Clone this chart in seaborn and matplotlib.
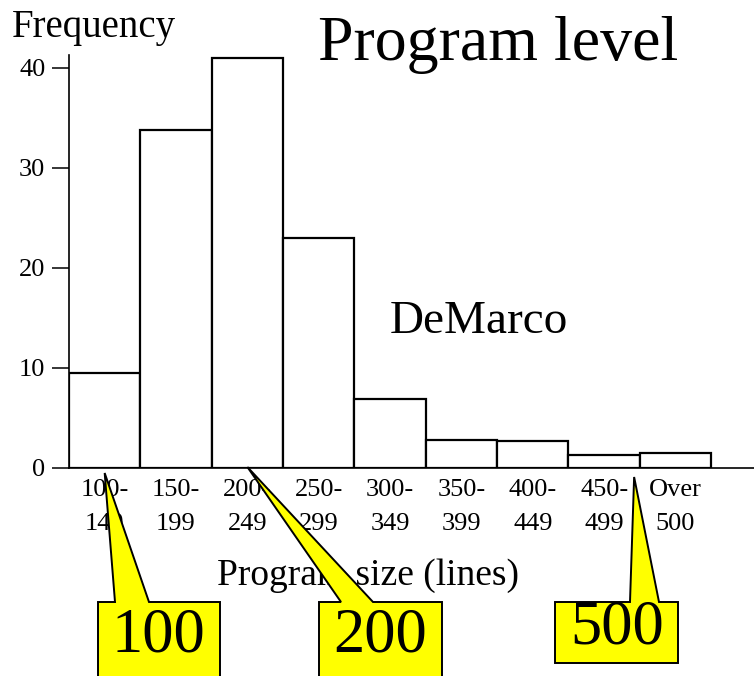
import matplotlib
matplotlib.use("Agg")
import matplotlib.pyplot as plt
from matplotlib.patches import Polygon
import seaborn as sns
import pandas as pd

# ---- data ----
categories = ["100-\n149", "150-\n199", "200-\n249", "250-\n299", "300-\n349",
              "350-\n399", "400-\n449", "450-\n499", "Over\n500"]
frequency = [9.5, 33.8, 41.0, 23.0, 6.9, 2.8, 2.7, 1.3, 1.5]
yticks = [0, 10, 20, 30, 40]
callout_labels = ["100", "200", "500"]
callout_targets = [0.0, 2.0, 7.42]   # bar-index positions pointed to

sns.set_theme(style="white")
plt.rcParams["font.family"] = ["Liberation Serif", "DejaVu Serif"]
plt.rcParams["text.color"] = "black"
plt.rcParams["axes.labelcolor"] = "black"
plt.rcParams["xtick.color"] = "black"
plt.rcParams["ytick.color"] = "black"

W, H = 754, 676
fig = plt.figure(figsize=(W / 100, H / 100), dpi=100)
ax = fig.add_axes([69 / W, 208 / H, (W - 69) / W, 413 / H])

df = pd.DataFrame({"size": categories, "freq": frequency})
sns.barplot(data=df, x="size", y="freq", ax=ax, color="white",
            edgecolor="black", linewidth=1.6, width=1.0, saturation=1)

ax.set_xlim(-0.5, 9.1)
ax.set_ylim(0, 41.3)
ax.set_yticks(yticks)
ax.set_yticklabels([str(v) for v in yticks])
ax.tick_params(axis="y", direction="out", length=12, width=1.1, color="black",
               labelsize=19, pad=5, left=True, labelcolor="black")
ax.tick_params(axis="x", length=0, labelsize=19, pad=8, labelcolor="black")
for lab in ax.get_xticklabels():
    lab.set_linespacing(1.7)
for s in ["top", "right"]:
    ax.spines[s].set_visible(False)
for s in ["left", "bottom"]:
    ax.spines[s].set_color("black")
    ax.spines[s].set_linewidth(1.2)
ax.set_ylabel("")
ax.set_xlabel("Program size (lines)", fontsize=27, color="black")
ax.xaxis.label.set_va("center")
ax.xaxis.set_label_coords((368 - 69) / (W - 69), (468 - 576) / 413)
ax.grid(False)

fig.text(12 / W, 1 - 27 / H, "Frequency", fontsize=28, va="center", ha="left")
fig.text(498 / W, 1 - 45 / H, "Program level", fontsize=46, va="center", ha="center")
ax.text(5.25, 14.6, "DeMarco", fontsize=34, va="center", ha="center")

# ---- yellow callouts ----
boxes = [  # x0, x1, top, bottom, base1, base2, apex_y(data), text center
    (98, 220, 602, 690, 115, 149, -0.5, (158, 637)),
    (319, 442, 602, 690, 341, 373, 0.1, (380, 637)),
    (555, 678, 602, 663, 630, 659, -0.9, (617, 628)),
]
inv = fig.transFigure.inverted()
for (x0, x1, top, bot, b1, b2, ay, tc), lab, tx in zip(boxes, callout_labels, callout_targets):
    apex = inv.transform(ax.transData.transform((tx, ay)))
    f = lambda x, y: (x / W, 1 - y / H)
    pts = [f(x0, top), f(b1, top), tuple(apex), f(b2, top), f(x1, top),
           f(x1, bot), f(x0, bot)]
    poly = Polygon(pts, closed=True, facecolor="#ffff00", edgecolor="black",
                   linewidth=1.4, transform=fig.transFigure, zorder=5)
    fig.add_artist(poly)
    fig.text(tc[0] / W, 1 - tc[1] / H, lab, fontsize=45, ha="center",
             va="center", zorder=6)

fig.savefig("out.png", dpi=100)
